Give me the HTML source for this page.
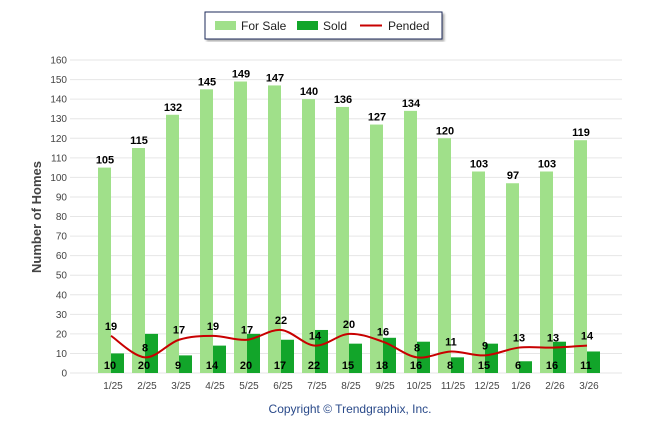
<!DOCTYPE html>
<html><head><meta charset="utf-8"><style>
body{margin:0;background:#fff;font-family:"Liberation Sans",sans-serif;}
svg text{font-family:"Liberation Sans",sans-serif;}
</style></head><body>
<svg width="646" height="434">
<defs><filter id="sh"><feDropShadow dx="2" dy="2" stdDeviation="1" flood-color="#777" flood-opacity="0.6"/></filter></defs>
<g>
<rect x="205" y="12" width="237" height="27" fill="#fff" stroke="#1a2a5a" stroke-width="1" filter="url(#sh)"/>
<rect x="215" y="21" width="21" height="9" fill="#a0e08a"/>
<text x="241" y="30" font-size="12" fill="#222">For Sale</text>
<rect x="297" y="21" width="21" height="9" fill="#12a52a"/>
<text x="323" y="30" font-size="12" fill="#222">Sold</text>
<line x1="360" y1="25.5" x2="382" y2="25.5" stroke="#c80000" stroke-width="2"/>
<text x="388" y="30" font-size="12" fill="#222">Pended</text>
</g>
<g id="grid"></g><g id="bars"></g><g id="line"></g><g id="labels"></g>
<text transform="translate(41,217) rotate(-90)" text-anchor="middle" font-size="13" font-weight="bold" fill="#444">Number of Homes</text>
<text x="350" y="413" text-anchor="middle" font-size="12" fill="#2a4a8a">Copyright © Trendgraphix, Inc.</text>
</svg>
<script>
const categories=["1/25","2/25","3/25","4/25","5/25","6/25","7/25","8/25","9/25","10/25","11/25","12/25","1/26","2/26","3/26"];
const forSale=[105,115,132,145,149,147,140,136,127,134,120,103,97,103,119];
const sold=[10,20,9,14,20,17,22,15,18,16,8,15,6,16,11];
const pended=[19,8,17,19,17,22,14,20,16,8,11,9,13,13,14];
const yTicks=[0,10,20,30,40,50,60,70,80,90,100,110,120,130,140,150,160];
const NS="http://www.w3.org/2000/svg";
const y=v=>373-v*(313/160);
const x=i=>111+34*i;
function mk(p,tag,a,txt){const e=document.createElementNS(NS,tag);for(const k in a)e.setAttribute(k,a[k]);if(txt!==undefined)e.textContent=txt;p.appendChild(e);return e;}
const g=document.getElementById('grid'),b=document.getElementById('bars'),l=document.getElementById('line'),lb=document.getElementById('labels');
yTicks.forEach(t=>{
const ln=mk(g,'line',{x1:70,x2:622,y1:y(t),y2:y(t),stroke:'#e6e6e6'});


const tx=mk(g,'text',{x:67,y:y(t)+3.5,'text-anchor':'end','font-size':10,fill:'#444'},t);


});
categories.forEach((c,i)=>{
const r1=mk(b,'rect',{x:x(i)-13,y:y(forSale[i]),width:13,height:y(0)-y(forSale[i]),fill:'#a0e08a'});


const r2=mk(b,'rect',{x:x(i),y:y(sold[i]),width:13,height:y(0)-y(sold[i]),fill:'#12a52a'});


const xl=mk(lb,'text',{x:x(i)+2,y:389,'text-anchor':'middle','font-size':10,fill:'#444'},c);


const a=mk(lb,'text',{x:x(i)-6,y:y(forSale[i])-4,'text-anchor':'middle','font-size':11,'font-weight':'bold',fill:'#000'},forSale[i]);


const s=mk(lb,'text',{x:x(i)-1,y:369,'text-anchor':'middle','font-size':11,'font-weight':'bold',fill:'#000'},sold[i]);


const p=mk(lb,'text',{x:x(i),y:y(pended[i])-6,'text-anchor':'middle','font-size':11,'font-weight':'bold',fill:'#000'},pended[i]);


});
const pts=pended.map((v,i)=>[x(i),y(v)]);
let d=`M${pts[0][0]},${pts[0][1]}`;
for(let i=0;i<pts.length-1;i++){
const p0=pts[Math.max(i-1,0)],p1=pts[i],p2=pts[i+1],p3=pts[Math.min(i+2,pts.length-1)];
const t=6;
d+=` C${p1[0]+(p2[0]-p0[0])/t},${p1[1]+(p2[1]-p0[1])/t} ${p2[0]-(p3[0]-p1[0])/t},${p2[1]-(p3[1]-p1[1])/t} ${p2[0]},${p2[1]}`;
}
const pl=mk(l,'path',{d:d,fill:'none',stroke:'#c80000','stroke-width':2});


</script>
</body></html>
